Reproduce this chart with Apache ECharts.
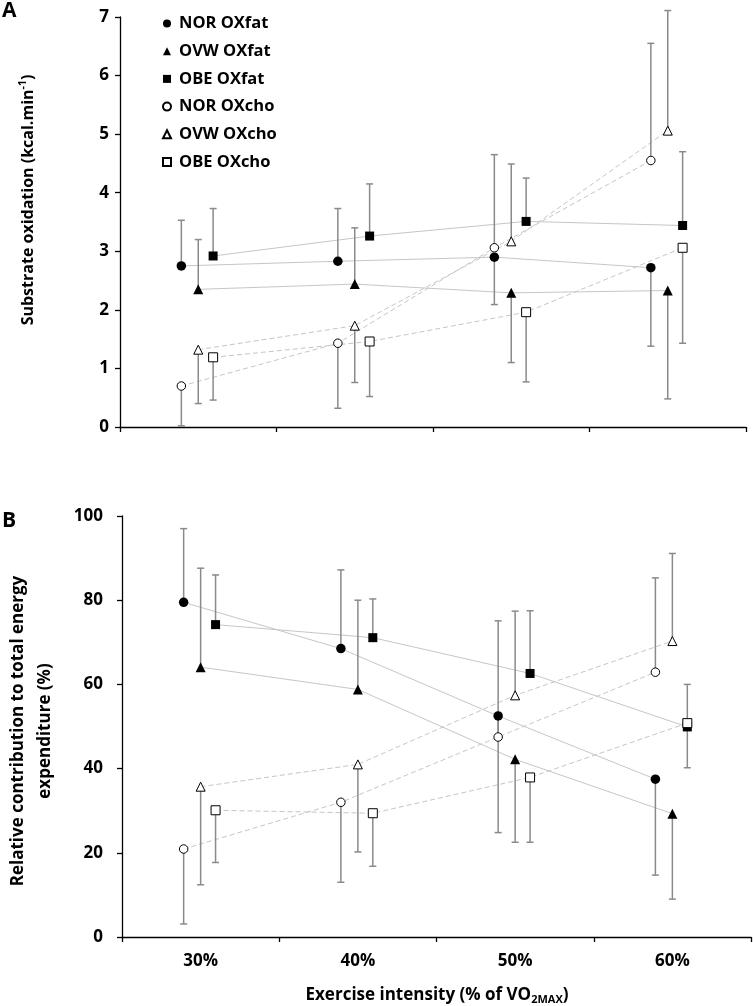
<!DOCTYPE html>
<html>
<head>
<meta charset="utf-8">
<script src="https://cdn.jsdelivr.net/npm/echarts@6/dist/echarts.min.js"></script>
<style>
html,body{margin:0;padding:0;background:#fff;}
#chart{width:753px;height:1006px;}
</style>
</head>
<body>
<div id="chart"></div>
<script>
// ---- data ----
const categories = ['30%', '40%', '50%', '60%'];
const seriesNames = ['NOR OXfat', 'OVW OXfat', 'OBE OXfat', 'NOR OXcho', 'OVW OXcho', 'OBE OXcho'];

// Panel A: substrate oxidation (kcal/min) — means
const aNorFat = [2.75, 2.83, 2.90, 2.72];
const aOvwFat = [2.35, 2.44, 2.29, 2.33];
const aObeFat = [2.92, 3.26, 3.51, 3.44];
const aNorCho = [0.70, 1.43, 3.06, 4.55];
const aOvwCho = [1.32, 1.73, 3.17, 5.06];
const aObeCho = [1.19, 1.46, 1.96, 3.06];
// Panel A: error bar end values
const aNorFatErr = [3.53, 3.73, 2.09, 1.38];
const aOvwFatErr = [3.20, 3.40, 1.10, 0.48];
const aObeFatErr = [3.73, 4.15, 4.25, 4.70];
const aNorChoErr = [0.02, 0.32, 4.65, 6.55];
const aOvwChoErr = [0.40, 0.76, 4.49, 7.11];
const aObeChoErr = [0.46, 0.52, 0.77, 1.43];

// Panel B: relative contribution (%) — means
const bNorFat = [79.5, 68.5, 52.5, 37.5];
const bOvwFat = [64.1, 58.8, 42.2, 29.3];
const bObeFat = [74.2, 71.1, 62.6, 49.9];
const bNorCho = [20.9, 32.0, 47.5, 62.9];
const bOvwCho = [35.7, 41.0, 57.4, 70.3];
const bObeCho = [30.1, 29.4, 37.9, 50.8];
// Panel B: error bar end values
const bNorFatErr = [97.0, 87.2, 24.8, 14.7];
const bOvwFatErr = [87.6, 80.0, 22.5, 9.0];
const bObeFatErr = [86.0, 80.3, 77.5, 40.2];
const bNorChoErr = [3.1, 13.0, 75.1, 85.3];
const bOvwChoErr = [12.4, 20.2, 77.4, 91.1];
const bObeChoErr = [17.7, 16.8, 22.5, 60.0];

const yTicksA = {min: 0, max: 7, interval: 1};
const yTicksB = {min: 0, max: 100, interval: 20};

// ---- styling ----
const FONT = "'Open Sans', sans-serif";
const groupOffset = {NOR: -0.108, OVW: 0, OBE: 0.095};
const markerStyle = [
  {symbol: 'circle',   size: 9.5, filled: true},
  {symbol: 'triangle', size: 10,  filled: true},
  {symbol: 'rect',     size: 9,   filled: true},
  {symbol: 'circle',   size: 8.5, filled: false},
  {symbol: 'triangle', size: 9,   filled: false},
  {symbol: 'rect',     size: 9,   filled: false}
];

const panels = [
  {means: [aNorFat, aOvwFat, aObeFat, aNorCho, aOvwCho, aObeCho],
   errs: [aNorFatErr, aOvwFatErr, aObeFatErr, aNorChoErr, aOvwChoErr, aObeChoErr]},
  {means: [bNorFat, bOvwFat, bObeFat, bNorCho, bOvwCho, bObeCho],
   errs: [bNorFatErr, bOvwFatErr, bObeFatErr, bNorChoErr, bOvwChoErr, bObeChoErr]}
];

function xPos(i, name) {
  return i + 0.5 + groupOffset[name.split(' ')[0]];
}

const series = [];
panels.forEach((p, pi) => {
  const xAxisIndex = pi * 2 + 1; // hidden value axis
  const yAxisIndex = pi;
  seriesNames.forEach((name, si) => {
    const pts = p.means[si].map((v, i) => [xPos(i, name), v]);
    const isCho = si >= 3;
    series.push({
      type: 'line', name: name + '_line', xAxisIndex, yAxisIndex,
      data: pts, symbol: 'none', silent: true, z: 1,
      lineStyle: {color: '#c6c6c6', width: 1, type: isCho ? [5, 3] : 'solid'}
    });
    series.push({
      type: 'custom', name: name + '_err', xAxisIndex, yAxisIndex, z: 2, silent: true,
      data: p.means[si].map((v, i) => [xPos(i, name), v, p.errs[si][i]]),
      renderItem: function (params, api) {
        const a = api.coord([api.value(0), api.value(1)]);
        const b = api.coord([api.value(0), api.value(2)]);
        const st = {stroke: '#8a8a8a', lineWidth: 1.5};
        return {
          type: 'group',
          children: [
            {type: 'line', shape: {x1: a[0], y1: a[1], x2: b[0], y2: b[1]}, style: st},
            {type: 'line', shape: {x1: b[0] - 3.5, y1: b[1], x2: b[0] + 3.5, y2: b[1]}, style: st}
          ]
        };
      }
    });
  });
  seriesNames.forEach((name, si) => {
    const ms = markerStyle[si];
    series.push({
      type: 'scatter', name: name, xAxisIndex, yAxisIndex, z: 3,
      data: p.means[si].map((v, i) => [xPos(i, name), v]),
      symbol: ms.symbol, symbolSize: ms.size,
      itemStyle: ms.filled ? {color: '#000', borderColor: '#000', borderWidth: 0, opacity: 1}
                           : {color: '#fff', borderColor: '#000', borderWidth: 1, opacity: 1}
    });
  });
});

const axisLineStyle = {show: true, lineStyle: {color: '#000', width: 1.3}};
const tickStyle = {show: true, inside: false, length: 5, lineStyle: {color: '#000', width: 1.3}};

const option = {
  backgroundColor: '#fff',
  animation: false,
  textStyle: {fontFamily: FONT},
  grid: [
    {left: 120, top: 17, width: 626, height: 410},
    {left: 122, top: 516, width: 629, height: 421}
  ],
  xAxis: [
    {type: 'category', gridIndex: 0, data: categories, boundaryGap: true,
     axisLine: axisLineStyle, axisTick: tickStyle, axisLabel: {show: false}, splitLine: {show: false}},
    {type: 'value', gridIndex: 0, min: 0, max: 4, show: false},
    {type: 'category', gridIndex: 1, data: categories, boundaryGap: true,
     axisLine: axisLineStyle, axisTick: tickStyle,
     axisLabel: {show: true, color: '#000', fontWeight: 'bold', fontSize: 17, fontFamily: FONT, margin: 16},
     splitLine: {show: false}},
    {type: 'value', gridIndex: 1, min: 0, max: 4, show: false}
  ],
  yAxis: [
    {type: 'value', gridIndex: 0, min: yTicksA.min, max: yTicksA.max, interval: yTicksA.interval,
     axisLine: axisLineStyle, axisTick: tickStyle, splitLine: {show: false},
     axisLabel: {color: '#000', fontWeight: 'bold', fontSize: 17, fontFamily: FONT, margin: 11}},
    {type: 'value', gridIndex: 1, min: yTicksB.min, max: yTicksB.max, interval: yTicksB.interval,
     axisLine: axisLineStyle, axisTick: tickStyle, splitLine: {show: false},
     axisLabel: {color: '#000', fontWeight: 'bold', fontSize: 17, fontFamily: FONT, margin: 19}}
  ],
  legend: {
    data: seriesNames,
    orient: 'vertical',
    left: 157, top: 8.5,
    itemWidth: 8, itemHeight: 8, itemGap: 7.7,
    selectedMode: false,
    textStyle: {color: '#000', fontWeight: 'bold', fontSize: 16.5, fontFamily: FONT, lineHeight: 20, padding: [0, 0, 0, 3]}
  },
  graphic: [
    {type: 'text', left: 2, top: 1, style: {text: 'A', font: 'bold 21px ' + FONT, fill: '#000'}},
    {type: 'text', left: 2, top: 511, style: {text: 'B', font: 'bold 21px ' + FONT, fill: '#000'}},
    {type: 'text', x: 28, y: 200, rotation: Math.PI / 2,
     style: {
       text: '{n|Substrate oxidation (kcal.min}{s|-1}{n|)}',
       align: 'center', verticalAlign: 'middle', fill: '#000',
       rich: {
         n: {fontFamily: FONT, fontWeight: 'bold', fontSize: 16, lineHeight: 20, fill: '#000'},
         s: {fontFamily: FONT, fontWeight: 'bold', fontSize: 10.5, lineHeight: 20, verticalAlign: 'top', fill: '#000', padding: [0, 0, 8, 0]}
       }
     }},
    {type: 'text', x: 32, y: 731, rotation: Math.PI / 2,
     style: {
       text: 'Relative contribution to total energy\nexpenditure (%)',
       align: 'center', verticalAlign: 'middle', fill: '#000',
       font: 'bold 17px ' + FONT, lineHeight: 27
     }},
    {type: 'text', x: 437, y: 995,
     style: {
       text: '{n|Exercise intensity (% of VO}{b|2MAX}{n|)}',
       align: 'center', verticalAlign: 'middle', fill: '#000',
       rich: {
         n: {fontFamily: FONT, fontWeight: 'bold', fontSize: 17, lineHeight: 20, fill: '#000'},
         b: {fontFamily: FONT, fontWeight: 'bold', fontSize: 11, lineHeight: 20, verticalAlign: 'bottom', fill: '#000', padding: [6, 0, 0, 0]}
       }
     }}
  ],
  series: series
};

const chart = echarts.init(document.getElementById('chart'), null, {renderer: 'canvas'});
chart.setOption(option);
</script>
</body>
</html>
